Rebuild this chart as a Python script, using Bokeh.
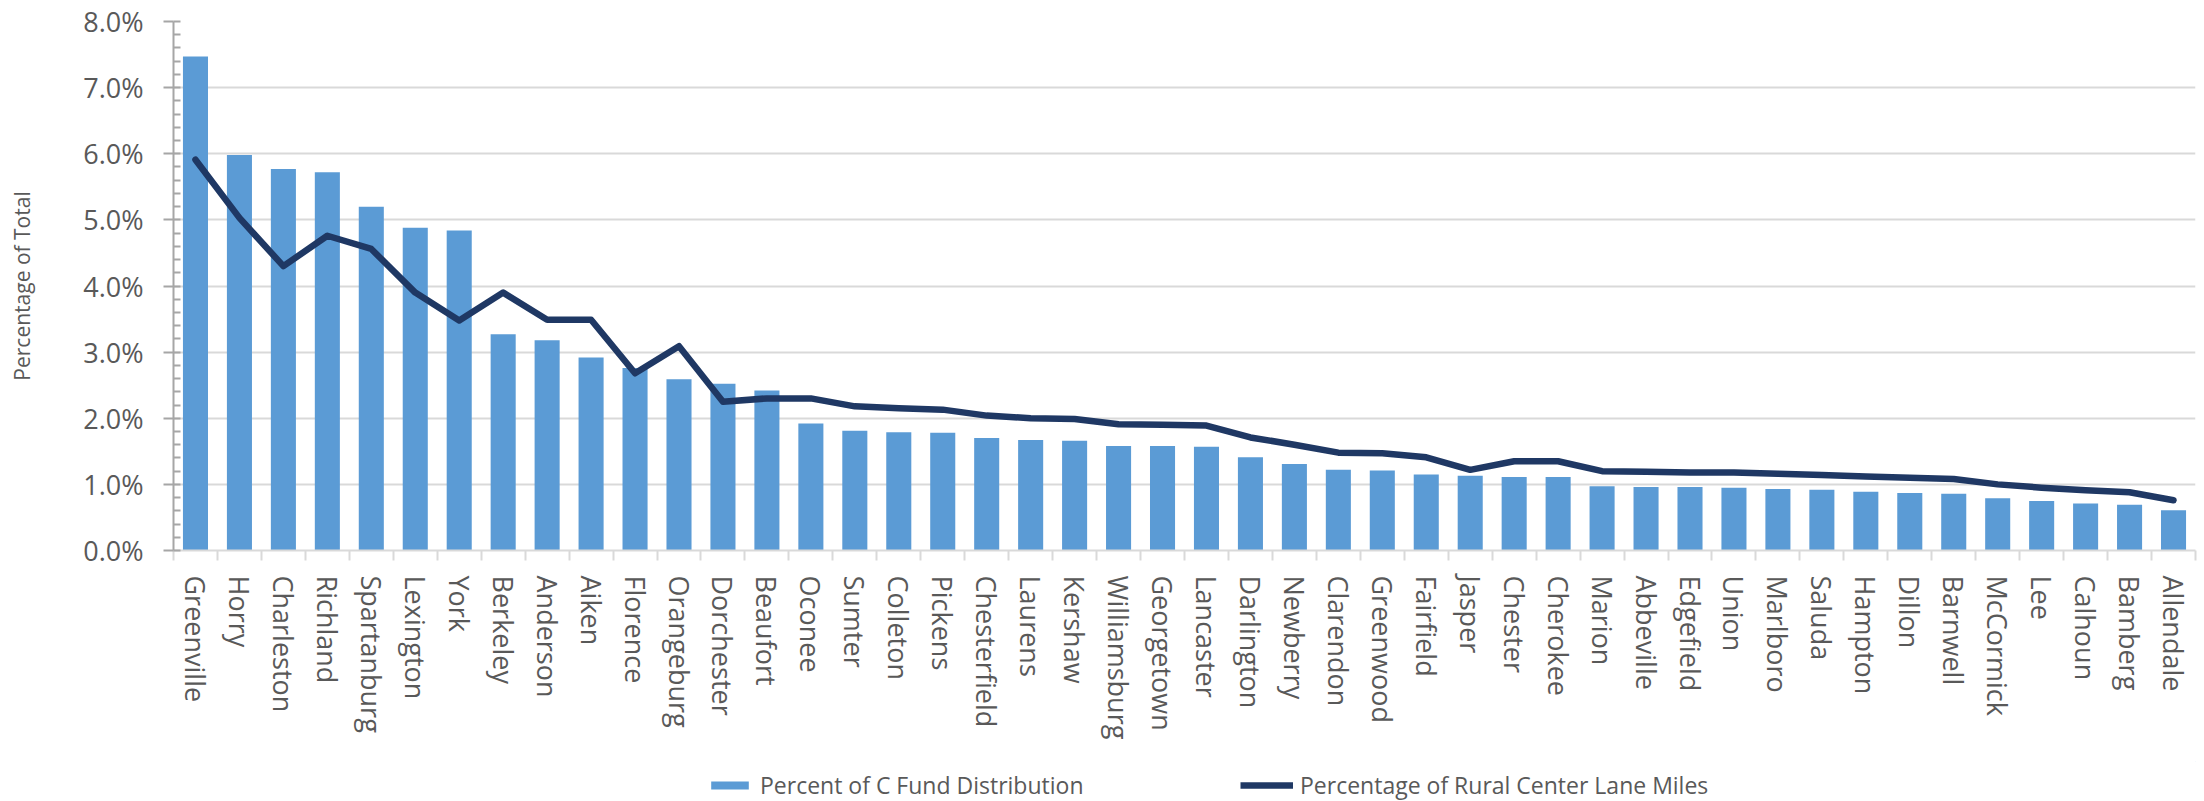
from bokeh.plotting import figure
from bokeh.layouts import column
from bokeh.models import (ColumnDataSource, Range1d, FixedTicker, SingleIntervalTicker,
                          PrintfTickFormatter, Legend, LegendItem)
from bokeh.embed import file_html
from bokeh.resources import INLINE

counties = ["Greenville", "Horry", "Charleston", "Richland", "Spartanburg", "Lexington", "York",
            "Berkeley", "Anderson", "Aiken", "Florence", "Orangeburg", "Dorchester", "Beaufort",
            "Oconee", "Sumter", "Colleton", "Pickens", "Chesterfield", "Laurens", "Kershaw",
            "Williamsburg", "Georgetown", "Lancaster", "Darlington", "Newberry", "Clarendon",
            "Greenwood", "Fairfield", "Jasper", "Chester", "Cherokee", "Marion", "Abbeville",
            "Edgefield", "Union", "Marlboro", "Saluda", "Hampton", "Dillon", "Barnwell",
            "McCormick", "Lee", "Calhoun", "Bamberg", "Allendale"]

c_fund_pct = [7.47, 5.98, 5.77, 5.72, 5.20, 4.88, 4.84, 3.27, 3.18, 2.92, 2.76, 2.59, 2.52, 2.42,
              1.92, 1.81, 1.79, 1.78, 1.70, 1.67, 1.66, 1.58, 1.58, 1.57, 1.41, 1.31, 1.22,
              1.21, 1.15, 1.13, 1.11, 1.11, 0.97, 0.96, 0.96, 0.95, 0.93, 0.92, 0.89, 0.87,
              0.86, 0.79, 0.75, 0.71, 0.69, 0.61]

rural_lane_miles_pct = [5.91, 5.03, 4.30, 4.76, 4.56, 3.90, 3.48, 3.90, 3.49, 3.49, 2.68, 3.09,
                        2.25, 2.30, 2.30, 2.18, 2.15, 2.13, 2.04, 2.00, 1.99, 1.91, 1.90, 1.89,
                        1.71, 1.60, 1.48, 1.47, 1.41, 1.22, 1.35, 1.35, 1.20, 1.19, 1.18, 1.18,
                        1.16, 1.14, 1.12, 1.10, 1.08, 1.00, 0.95, 0.91, 0.88, 0.76]

bar_label = "Percent of C Fund Distribution"
line_label = "Percentage of Rural Center Lane Miles"

BAR_COLOR = "#5b9bd5"
LINE_COLOR = "#1f3864"
TXT = "#595959"
FONT = "Open Sans"

idx = list(range(len(counties)))
src = ColumnDataSource(dict(x=idx, bar=c_fund_pct, line=rural_lane_miles_pct, name=counties))

# ---------------- main chart ----------------
p = figure(width=2204, height=761, output_backend="svg", toolbar_location=None,
           x_range=Range1d(-0.5, len(counties) - 0.5), y_range=Range1d(0, 8),
           min_border_left=173, min_border_right=9, min_border_top=21, min_border_bottom=211)
p.outline_line_color = None
p.background_fill_color = "white"
p.border_fill_color = "white"

p.vbar(x="x", top="bar", width=0.57, bottom=0, source=src,
       fill_color=BAR_COLOR, line_color=None)
p.line(x="x", y="line", source=src, line_color=LINE_COLOR, line_width=6.5,
       line_cap="round", line_join="round")

xa = p.xaxis[0]
xa.ticker = FixedTicker(ticks=idx, minor_ticks=[i - 0.5 for i in range(len(counties) + 1)])
xa.major_label_overrides = {i: n for i, n in enumerate(counties)}
xa.major_label_orientation = "vertical"
xa.major_label_text_font = FONT
xa.major_label_text_font_size = "27px"
xa.major_label_text_color = TXT
xa.major_label_standoff = 15
xa.major_tick_line_color = None
xa.major_tick_out = 0
xa.major_tick_in = 0
xa.minor_tick_line_color = "#d9d9d9"
xa.minor_tick_line_width = 2
xa.minor_tick_out = 10
xa.minor_tick_in = 0
xa.axis_line_color = "#d9d9d9"
xa.axis_line_width = 2

ya = p.yaxis[0]
ya.ticker = SingleIntervalTicker(interval=1, num_minor_ticks=5)
ya.formatter = PrintfTickFormatter(format="%.1f%%")
ya.major_label_text_font = FONT
ya.major_label_text_font_size = "27px"
ya.major_label_text_color = TXT
ya.major_label_standoff = 20
ya.major_tick_line_color = "#a6a6a6"
ya.major_tick_line_width = 2
ya.major_tick_out = 10
ya.major_tick_in = 0
ya.minor_tick_line_color = "#a6a6a6"
ya.minor_tick_line_width = 2
ya.minor_tick_in = 7
ya.minor_tick_out = 0
ya.axis_line_color = "#a6a6a6"
ya.axis_line_width = 2
ya.axis_label = "Percentage of Total"
ya.axis_label_text_font = FONT
ya.axis_label_text_font_size = "21px"
ya.axis_label_text_font_style = "normal"
ya.axis_label_text_color = TXT
ya.axis_label_standoff = 44

p.xgrid.grid_line_color = None
p.ygrid.ticker = SingleIntervalTicker(interval=1)
p.ygrid.grid_line_color = "#d9d9d9"
p.ygrid.grid_line_width = 2

# ---------------- legend strip ----------------
lg = figure(width=2204, height=40, output_backend="svg", toolbar_location=None,
            x_axis_type=None, y_axis_type=None, x_range=Range1d(0, 1), y_range=Range1d(0, 1),
            min_border_left=0, min_border_right=0, min_border_top=0, min_border_bottom=0)
lg.outline_line_color = None
lg.background_fill_color = "white"
lg.border_fill_color = "white"
# swatch-only renderers, their data sits outside the visible range
dummy_bar = lg.vbar(x=[5], top=[5], bottom=[4], width=0.5, fill_color=BAR_COLOR, line_color=None)
dummy_line = lg.line(x=[5, 6], y=[5, 5], line_color=LINE_COLOR, line_width=6.5)


def add_legend(label, renderer, x, gw):
    leg = Legend(items=[LegendItem(label=label, renderers=[renderer])], location=(x, 0),
                 orientation="horizontal", glyph_width=gw, glyph_height=10, label_standoff=7,
                 padding=0, margin=0, border_line_color=None, background_fill_alpha=0,
                 label_text_font=FONT, label_text_font_size="23px", label_text_color=TXT)
    lg.add_layout(leg, "center")


add_legend(bar_label, dummy_bar, 533, 47)
add_legend(line_label, dummy_line, 1067, 53)

layout = column(p, lg, spacing=0)
open("out.html", "w").write(file_html(layout, INLINE))
